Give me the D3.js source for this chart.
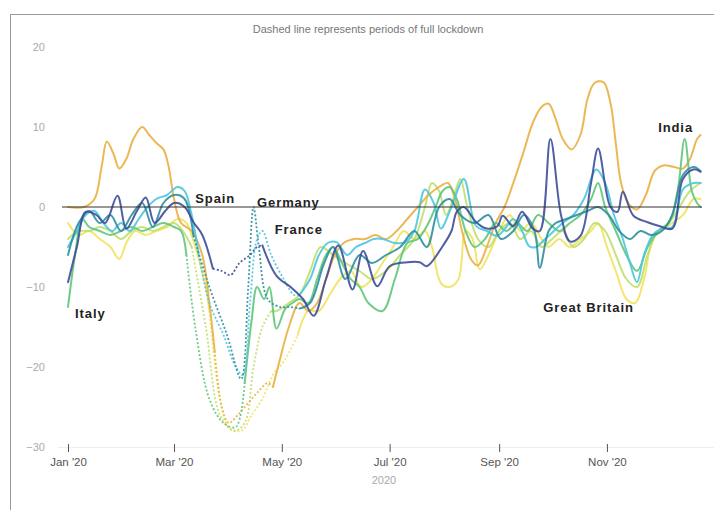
<!DOCTYPE html>
<html><head><meta charset="utf-8">
<script src="https://cdn.jsdelivr.net/npm/d3@7"></script>
<style>
body{margin:0;background:#fff;}
svg{display:block;font-family:"Liberation Sans",Arial,sans-serif;}
</style>
</head><body>
<svg id="chart" width="714" height="510"></svg>
<script>
// ---------------- DATA ----------------
const titleText = "Dashed line represents periods of full lockdown";
const xAxisTitle = "2020";
const yTicks = [20, 10, 0, -10, -20, -30];
const xTickMonths = [0, 2, 4, 6, 8, 10]; // Jan, Mar, May, Jul, Sep, Nov

// day offsets from 1 Jan 2020 and values (% change)
const indiaDays   = [0,9,15,19,22,26,29,33,37,42,46,50,54,57,60,64,70,76,80,83,87,91,96,102,108,113,116,120,125,131,136,141,146,151,156,162,168,174,180,186,192,198,204,210,215,219,223,228,232,237,242,247,252,258,263,268,272,276,280,285,290,294,298,303,307,310,313,317,322,327,332,337,343,348,352,356,358];
const indiaValues = [0,0,1,5,8.2,6.5,4.8,6,8.5,10,9,8,7.2,5,1,-2,-3,-6,-12,-18,-25,-27,-26,-24.5,-23,-22,-22.5,-19,-15,-12,-13,-12,-9,-6,-4.5,-4,-4,-3.5,-4,-3,-1.5,0,1.5,2.5,3,1,-3,-6.5,-7.3,-5,-2,0,3,7,10.5,12.5,12.9,11,8.5,7.2,9,13.5,15.5,15.6,13,8,3,0.5,-0.3,1.5,4.5,5.2,5,4.8,6,8.5,9];
const indiaLockdown = [83, 116];

const gbDays   = [0,6,12,18,24,29,33,38,44,50,56,62,67,72,78,80,86,91,98,104,110,116,123,130,136,142,148,154,160,166,172,178,184,190,196,202,206,211,216,221,225,229,233,238,244,250,256,262,268,272,278,284,290,296,300,305,310,316,321,326,331,336,342,348,354,358];
const gbValues = [-2,-3.5,-3,-4,-5,-6.5,-4.5,-3,-3.5,-3,-2.5,-1.5,-2,-5,-10,-13,-24,-27.5,-28,-26,-24,-21,-19,-16,-13,-13,-11,-9,-8,-10,-9,-7,-5,-3,-4,-3,-5,-9.5,-10,-9,-3,-4,-7.8,-6,-3,-1,-3,-2,-4,-5,-4,-5,-4,-3,-2,-5,-8,-11.5,-12,-9,-4,-3,-2,-1,1,1];
const gbLockdown = [80, 130];

const otherDays   = [0,6,12,18,24,30,36,42,48,54,60,65,70,78,86,94,100,105,110,115,118,125,131,137,143,150,157,165,172,180,188,196,202,206,210,214,218,222,226,232,238,244,250,256,262,268,274,280,286,292,298,304,310,316,322,328,334,340,346,352,358];
const otherValues = [-4,-3,-3,-2.5,-3,-4,-3,-2.5,-3,-2.5,-2,-3,-5,-15,-26,-28,-27,-20,-15,-13,-13,-12,-11,-8,-5,-6,-7,-8,-9,-8,-6,-4,0,3,2,-1,1,3.5,0,-4,-5,-3,-2,-4,-3,-5,-4,-3,-5,-4,-2,-3,-6,-9,-10,-6,-3,-2,0,2,3];
const otherLockdown = [70, 115];

const italyDays   = [0,4,8,12,18,24,30,36,42,48,54,60,64,67,72,80,88,95,100,104,107,111,114,118,123,127,131,136,141,146,150,155,160,165,170,178,185,192,198,204,208,212,216,220,225,230,236,242,248,254,260,266,272,278,284,290,296,300,304,310,316,322,328,334,340,345,349,353,356,358];
const italyValues = [-12.5,-6,-1.5,-2.5,-3,-3.5,-3,-2.5,-3,-2.5,-2,-2.5,-3,-6,-15,-24,-27,-27.5,-22,-14,-10,-11.5,-10,-15.2,-12.7,-12,-11.5,-12,-9,-6,-5,-7,-9,-10,-12,-13,-9,-4.5,-4,-2,0,2,2.5,1,-3,-5,-4,-2,-3,-2,-3,-1,-2,-3,-2,-1,1,3,0,-3,-6,-8,-5,-3,-2,2,8.5,2,0.5,0];
const italyLockdown = [67, 100];

const franceDays   = [0,5,10,15,20,25,30,35,40,45,50,56,62,66,70,74,80,88,95,99,103,107,110,115,122,128,131,137,142,147,152,158,163,168,173,178,185,191,196,202,207,211,217,224,231,237,243,248,252,257,261,265,270,275,280,286,292,299,304,309,314,318,322,326,331,336,342,348,354,358];
const franceValues = [-5,-3,-1,-0.5,-2,-3,-2,-3,-1.5,0,1,1.5,2.5,2,-1,-6,-12,-16,-20,-21,-12,-4,-3,-6,-9,-11,-11,-9,-6,-4.5,-4.4,-6,-5,-4.5,-4,-4,-4.5,-4.4,-3,2.2,0.5,-2.7,0,3.5,-2.4,-3,-3.6,-2.5,-1.5,-3,-4.9,-5,-4,-3,-2,-1,1,4.7,3,-1,-4,-7,-9.4,-6,-3.5,-2.7,-2.5,2.2,3,3];
const franceLockdown = [74, 131];

const spainDays   = [0,6,12,18,24,30,36,42,48,54,60,66,71,80,90,98,102,105,108,113,120,126,131,137,145,150,157,165,172,180,188,196,203,210,216,222,230,238,245,252,258,264,267,272,276,282,288,294,300,306,312,318,324,330,336,342,348,354,358];
const spainValues = [-6,-2,-0.5,-2,-1,-3,-1,0.5,-2.5,0.5,1.5,1,-3.6,-10,-16,-21.5,-10,0,-5,-11.5,-12.5,-12.5,-12.7,-12,-7,-5,-9,-6,-7,-6,-5,-3,-5,0,1,-1,-2,-1,-4,-3,-1,-3,-7.6,-3,-2,-1.5,-1,-0.5,0,-1,-3,-4,-3,-3.5,-3,-1,4,5,4.5];
const spainLockdown = [71, 131];

const germanyDays   = [0,5,10,16,21,28,33,39,44,49,55,60,66,71,76,82,87,92,97,103,107,110,118,126,133,139,146,153,161,167,175,182,192,199,203,212,217,220,224,231,237,243,246,252,257,263,267,273,279,284,290,296,300,307,311,314,320,328,335,342,348,354,358];
const germanyValues = [-9.4,-5,-0.6,-1,-2,1.4,-2.7,-0.5,1.2,-2,-0.5,0.5,0,-1.9,-3.5,-7.7,-8,-8.5,-7,-6,-5,-4.8,-8.6,-10,-11.5,-13.6,-9,-4.8,-10.3,-5.5,-9.9,-7.4,-6.9,-6.9,-7.4,-4.9,-3,-0.6,0,-1.9,-2.7,-2.4,-1.1,-2.4,-0.6,-2.7,-3,8.5,-1,-4.3,-3.6,3,7.3,0,-0.6,1.9,-1.1,-1.9,-2.4,-2.7,3.5,4.7,4.4];
const germanyLockdown = [82, 110];

const seriesNames = ["Great Britain", "Other", "India", "Italy", "France", "Spain", "Germany"];
const palette     = ["#f1e35e", "#c0df6c", "#e9b043", "#5fc67a", "#4cc5df", "#2f8fa0", "#3d4c9a"];

// label annotations (day, value)
const labelNames  = ["Italy", "Spain", "Germany", "France", "Great Britain", "India"];
const labelDays   = [4.5, 72, 107.5, 117.7, 269.4, 334.5];
const labelValues = [-13.5, 0.9, 0.4, -3, -12.75, 9.75];

// ---------------- CHART ----------------
const svg = d3.select("#chart");
const W = 714, H = 510;
const base = new Date(2020, 0, 1);
const toDate = d => d3.timeDay.offset(base, d);

const x = d3.scaleTime().domain([base, new Date(2020, 11, 31)]).range([68, 68 + 365 * 1.767]);
const y = d3.scaleLinear().domain([-30, 20]).range([447, 47]);

// frame
svg.append("line").attr("x1", 10.5).attr("x2", 10.5).attr("y1", 14).attr("y2", H).attr("stroke", "#9a9a9a");
svg.append("line").attr("x1", 10).attr("x2", W).attr("y1", 14.5).attr("y2", 14.5).attr("stroke", "#9a9a9a");

// title
svg.append("text").attr("x", 368).attr("y", 30).attr("text-anchor", "middle").attr("dominant-baseline", "middle")
  .attr("font-size", 11).attr("fill", "#777").text(titleText);

// faint baseline
svg.append("line").attr("x1", 58).attr("x2", W).attr("y1", y(-30) + 0.5).attr("y2", y(-30) + 0.5).attr("stroke", "#eeeeee");

// y axis
const yAx = svg.append("g").attr("transform", "translate(45,0)")
  .call(d3.axisLeft(y).tickValues(yTicks).tickSize(0).tickPadding(0).tickFormat(d3.format("d")));
yAx.select(".domain").remove();
yAx.selectAll("text").attr("font-size", 11).attr("fill", "#aaa").attr("font-family", "Liberation Sans, Arial, sans-serif");

// x axis
const xAx = svg.append("g").attr("transform", "translate(0,444)")
  .call(d3.axisBottom(x).tickValues(xTickMonths.map(m => new Date(2020, m, 1))).tickSize(8).tickPadding(6)
    .tickFormat(d3.timeFormat("%b '%y")));
xAx.select(".domain").remove();
xAx.selectAll("line").attr("stroke", "#555");
xAx.selectAll("text").attr("font-size", 11.5).attr("fill", "#555").attr("font-family", "Liberation Sans, Arial, sans-serif");

svg.append("text").attr("x", 384).attr("y", 481).attr("text-anchor", "middle").attr("dominant-baseline", "middle")
  .attr("font-size", 11).attr("fill", "#aaa").text(xAxisTitle);

// series
const allSeries = {
  "India": [indiaDays, indiaValues, indiaLockdown],
  "Great Britain": [gbDays, gbValues, gbLockdown],
  "Other": [otherDays, otherValues, otherLockdown],
  "Italy": [italyDays, italyValues, italyLockdown],
  "France": [franceDays, franceValues, franceLockdown],
  "Spain": [spainDays, spainValues, spainLockdown],
  "Germany": [germanyDays, germanyValues, germanyLockdown]
};

const line = d3.line().x(d => x(toDate(d[0]))).y(d => y(d[1])).curve(d3.curveCatmullRom.alpha(0.5));
const gLines = svg.append("g");

seriesNames.forEach((name, i) => {
  const [days, vals, lock] = allSeries[name];
  const pts = days.map((d, k) => [d, vals[k]]);
  const before = pts.filter(p => p[0] <= lock[0]);
  const during = pts.filter(p => p[0] >= lock[0] && p[0] <= lock[1]);
  const after  = pts.filter(p => p[0] >= lock[1]);
  [[before, false], [during, true], [after, false]].forEach(([seg, dashed]) => {
    if (seg.length < 2) return;
    gLines.append("path").attr("d", line(seg)).attr("fill", "none")
      .attr("stroke", palette[i]).attr("stroke-width", dashed ? 1.8 : 2)
      .attr("stroke-dasharray", dashed ? "2,2" : null)
      .attr("stroke-opacity", 0.9).attr("stroke-linejoin", "round").attr("stroke-linecap", dashed ? "butt" : "round");
  });
});

// zero line
svg.append("line").attr("x1", 62).attr("x2", 702).attr("y1", y(0)).attr("y2", y(0)).attr("stroke", "#333").attr("stroke-width", 1.2);

// labels
labelNames.forEach((n, i) => {
  svg.append("text").attr("x", x(toDate(labelDays[i]))).attr("y", y(labelValues[i]))
    .attr("dominant-baseline", "middle").attr("font-size", 13).attr("font-weight", "bold")
    .attr("letter-spacing", 0.9).attr("fill", "#222").text(n);
});
</script>
</body></html>
